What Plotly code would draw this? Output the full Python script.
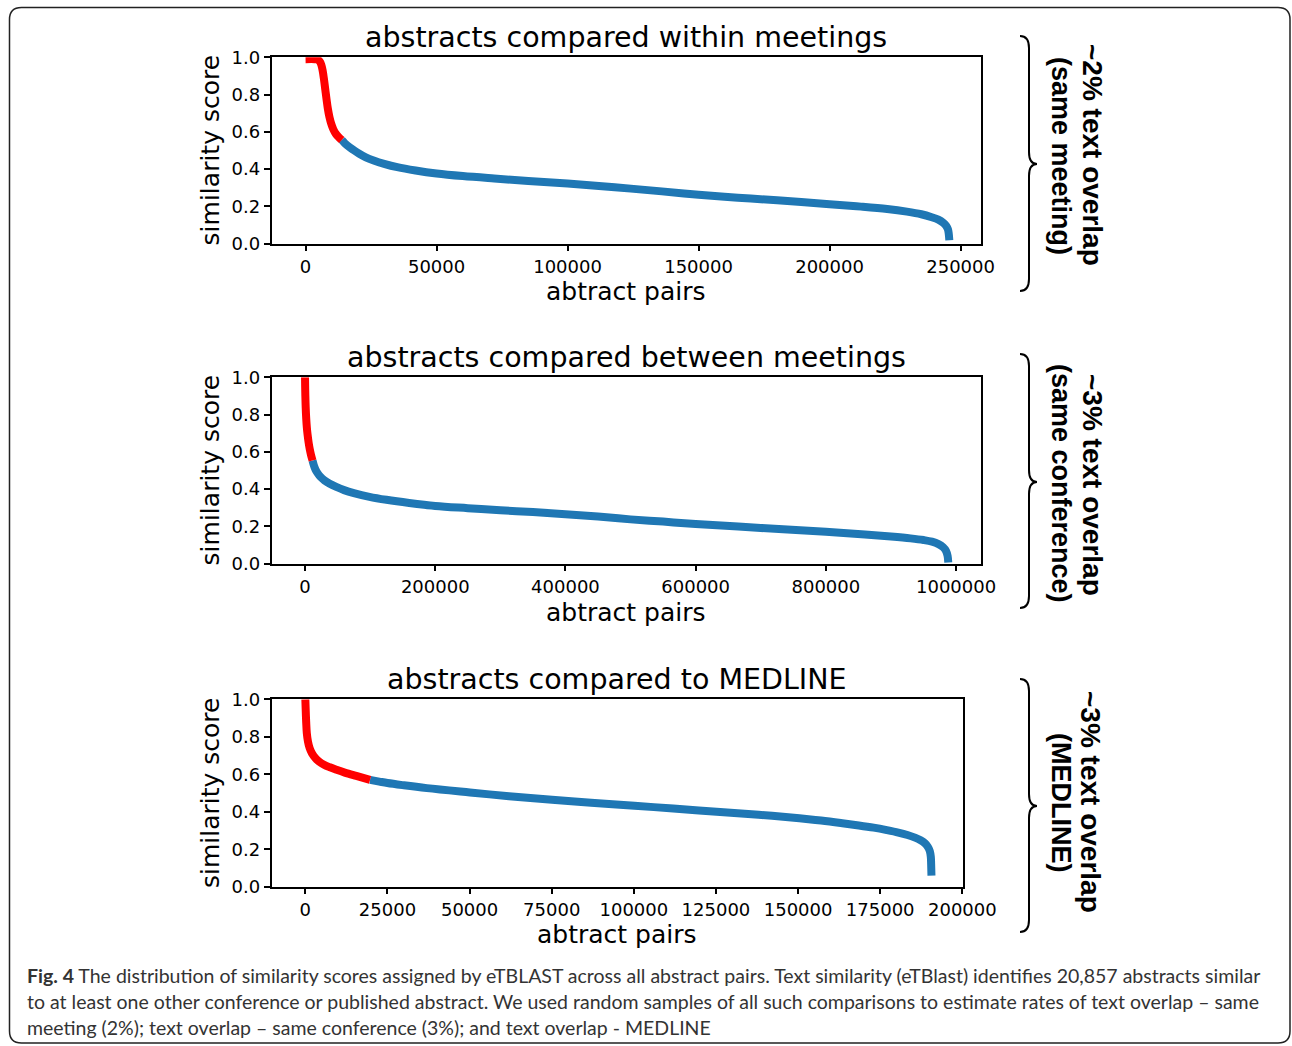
import plotly.graph_objects as go

W, H = 1292, 1046

# ---------------- data ----------------
# Panel 1: abstracts compared within meetings
p1_red_x = [0, 3500, 4600, 5400, 6000, 6500, 7000, 7500, 8000, 8500, 9100, 9800, 10600, 11500, 12600, 13800]
p1_red_y = [0.99, 0.99, 0.988, 0.978, 0.96, 0.93, 0.885, 0.83, 0.775, 0.725, 0.68, 0.643, 0.613, 0.59, 0.572, 0.556]
p1_blue_x = [13800, 15000, 16500, 18300, 20500, 23000, 26000, 30000, 35000, 42000, 50000, 60000, 72000,
             85000, 100000, 118000, 136000, 150000, 165000, 180000, 200000, 212000, 222000, 229500,
             235000, 239000, 241500, 243300, 244500, 245200, 245500, 245700]
p1_blue_y = [0.556, 0.538, 0.520, 0.502, 0.482, 0.463, 0.446, 0.428, 0.410, 0.392, 0.376, 0.362, 0.349,
             0.336, 0.322, 0.302, 0.280, 0.262, 0.246, 0.232, 0.211, 0.198, 0.185, 0.171,
             0.157, 0.141, 0.128, 0.112, 0.095, 0.075, 0.050, 0.018]

# Panel 2: abstracts compared between meetings
p2_red_x = [0, 200, 500, 1000, 1800, 2800, 4000, 5500, 7200, 9200, 11500]
p2_red_y = [1.0, 0.95, 0.90, 0.84, 0.78, 0.73, 0.69, 0.65, 0.615, 0.583, 0.553]
p2_blue_x = [11500, 13500, 16000, 19500, 24000, 30000, 38000, 48000, 60000, 75000, 99000, 125000,
             160000, 200000, 250000, 300000, 350000, 400000, 450000, 500000, 550000, 600000,
             700000, 800000, 860000, 900000, 930000, 950000, 963000, 973000, 980000, 984500,
             987000, 988000]
p2_blue_y = [0.553, 0.528, 0.505, 0.484, 0.464, 0.446, 0.428, 0.411, 0.394, 0.378, 0.358, 0.342,
             0.325, 0.309, 0.297, 0.286, 0.276, 0.265, 0.252, 0.237, 0.225, 0.212,
             0.191, 0.170, 0.156, 0.145, 0.135, 0.126, 0.117, 0.104, 0.088, 0.068,
             0.040, 0.005]

# Panel 3: abstracts compared to MEDLINE
p3_red_x = [0, 100, 250, 450, 800, 1300, 2000, 3000, 4200, 5700, 7500, 9500, 12000, 15500, 19700]
p3_red_y = [1.0, 0.95, 0.88, 0.82, 0.775, 0.74, 0.712, 0.688, 0.668, 0.651, 0.637, 0.624, 0.609, 0.591, 0.570]
p3_blue_x = [19700, 22500, 25000, 30000, 37000, 50100, 62000, 75100, 87000, 100200, 112000, 125200,
             138000, 150400, 157000, 163000, 168500, 173000, 177000, 180500, 183300, 185600,
             187300, 188600, 189500, 190100, 190400, 190500, 190600]
p3_blue_y = [0.570, 0.561, 0.553, 0.541, 0.526, 0.503, 0.483, 0.464, 0.448, 0.432, 0.417, 0.400,
             0.384, 0.365, 0.353, 0.340, 0.327, 0.315, 0.302, 0.289, 0.276, 0.262,
             0.248, 0.232, 0.213, 0.190, 0.160, 0.120, 0.059]

# tick labels
y_ticks = [0.0, 0.2, 0.4, 0.6, 0.8, 1.0]
p1_x_ticks = [0, 50000, 100000, 150000, 200000, 250000]
p2_x_ticks = [0, 200000, 400000, 600000, 800000, 1000000]
p3_x_ticks = [0, 25000, 50000, 75000, 100000, 125000, 150000, 175000, 200000]

titles = ["abstracts compared within meetings",
          "abstracts compared between meetings",
          "abstracts compared to MEDLINE"]
x_label = "abtract pairs"
y_label = "similarity score"
side_line1 = ["~2% text overlap", "~3% text overlap", "~3% text overlap"]
side_line2 = ["(same meeting)", "(same conference)", "(MEDLINE)"]
caption_lines = [
    "<b>Fig. 4</b> The distribution of similarity scores assigned by eTBLAST across all abstract pairs. "
    "Text similarity (eTBlast) identifies 20,857 abstracts similar",
    "to at least one other conference or published abstract. We used random samples of all such "
    "comparisons to estimate rates of text overlap \u2013 same",
    "meeting (2%); text overlap \u2013 same conference (3%); and text overlap - MEDLINE",
]

BLUE = "#1f77b4"
RED = "#ff0000"
FONT = "DejaVu Sans"


def fx(p):
    return p / W


def fy(p):
    return 1 - p / H


panels = [
    dict(rx=p1_red_x, ry=p1_red_y, bx=p1_blue_x, by=p1_blue_y, ticks=p1_x_ticks,
         xr=[-13000, 257600], xd=(271.5, 980.5), yd=(57.3, 243.5),
         tcx=626, tcy=37, xlcy=292, ylcx=210,
         brace=(36, 164, 291), s1=(1093, 155), s2=(1061, 156)),
    dict(rx=p2_red_x, ry=p2_red_y, bx=p2_blue_x, by=p2_blue_y, ticks=p2_x_ticks,
         xr=[-51500, 1037500], xd=(271.5, 980.5), yd=(377.3, 563.5),
         tcx=626, tcy=357, xlcy=612, ylcx=210,
         brace=(354, 482, 608), s1=(1093, 485), s2=(1061, 483)),
    dict(rx=p3_red_x, ry=p3_red_y, bx=p3_blue_x, by=p3_blue_y, ticks=p3_x_ticks,
         xr=[-10300, 200200], xd=(271.5, 963), yd=(699.3, 886.7),
         tcx=617, tcy=679, xlcy=934, ylcx=210,
         brace=(679, 806, 932), s1=(1091, 802), s2=(1061, 802)),
]

fig = go.Figure()
annotations = []
shapes = []
layout = {}

for i, p in enumerate(panels):
    n = "" if i == 0 else str(i + 1)
    xa, ya = "x" + n, "y" + n
    fig.add_trace(go.Scatter(x=p["bx"], y=p["by"], mode="lines", xaxis=xa, yaxis=ya,
                             line=dict(color=BLUE, width=8, shape="spline", smoothing=1.0),
                             showlegend=False, hoverinfo="skip"))
    fig.add_trace(go.Scatter(x=p["rx"], y=p["ry"], mode="lines", xaxis=xa, yaxis=ya,
                             line=dict(color=RED, width=8, shape="spline", smoothing=1.0),
                             showlegend=False, hoverinfo="skip"))
    common = dict(showline=True, linecolor="black", linewidth=1.5, mirror=True,
                  ticks="outside", ticklen=6, tickwidth=1.5, tickcolor="black",
                  showgrid=False, zeroline=False, automargin=False,
                  tickfont=dict(family=FONT, size=18, color="black"))
    layout["xaxis" + n] = dict(common, domain=[fx(p["xd"][0]), fx(p["xd"][1])], range=p["xr"],
                               anchor=ya, tickmode="array", tickvals=p["ticks"],
                               ticktext=[str(t) for t in p["ticks"]])
    layout["yaxis" + n] = dict(common, domain=[fy(p["yd"][1]), fy(p["yd"][0])], range=[0, 1],
                               anchor=xa, tickmode="array", tickvals=y_ticks,
                               ticktext=["%.1f" % t for t in y_ticks])
    # titles and axis labels
    annotations.append(dict(text=titles[i], x=fx(p["tcx"]), y=fy(p["tcy"]), xref="paper", yref="paper",
                            showarrow=False, xanchor="center", yanchor="middle",
                            font=dict(family=FONT, size=28.5, color="black")))
    annotations.append(dict(text=x_label, x=fx(p["tcx"]), y=fy(p["xlcy"]), xref="paper", yref="paper",
                            showarrow=False, xanchor="center", yanchor="middle",
                            font=dict(family=FONT, size=25, color="black")))
    annotations.append(dict(text=y_label, x=fx(p["ylcx"]), y=fy((p["yd"][0] + p["yd"][1]) / 2),
                            xref="paper", yref="paper", textangle=-90,
                            showarrow=False, xanchor="center", yanchor="middle",
                            font=dict(family=FONT, size=25, color="black")))
    # side labels
    for (sx, sy), txt, fs in ((p["s1"], side_line1[i], 28), (p["s2"], side_line2[i], 27)):
        annotations.append(dict(text="<b>" + txt + "</b>", x=fx(sx), y=fy(sy), xref="paper", yref="paper",
                                textangle=90, showarrow=False, xanchor="center", yanchor="middle",
                                font=dict(family="Liberation Sans, Arial", size=fs, color="black")))
    # brace
    yt, ym, yb = p["brace"]
    x0, xm, xt, r = 1020, 1029, 1037, 12
    pts = [("M", [(x0, yt)]), ("Q", [(xm, yt), (xm, yt + r)]), ("L", [(xm, ym - r)]),
           ("Q", [(xm, ym), (xt, ym)]), ("Q", [(xm, ym), (xm, ym + r)]), ("L", [(xm, yb - r)]),
           ("Q", [(xm, yb), (x0, yb)])]
    path = " ".join(c + " " + " ".join("%.5f,%.5f" % (fx(a), fy(b)) for a, b in cs) for c, cs in pts)
    shapes.append(dict(type="path", path=path, xref="paper", yref="paper",
                       line=dict(color="black", width=2)))

# caption
for k, line in enumerate(caption_lines):
    annotations.append(dict(text=line, x=fx(25), y=fy(975 + 26 * k), xref="paper", yref="paper",
                            showarrow=False, xanchor="left", yanchor="middle",
                            font=dict(family="Lato", size=19.5, color="#333333")))

# rounded border around the figure
bx0, by0, bx1, by1, rr = 9.5, 7.5, 1290, 1043, 12
bpts = [("M", [(bx0 + rr, by0)]), ("L", [(bx1 - rr, by0)]), ("Q", [(bx1, by0), (bx1, by0 + rr)]),
        ("L", [(bx1, by1 - rr)]), ("Q", [(bx1, by1), (bx1 - rr, by1)]), ("L", [(bx0 + rr, by1)]),
        ("Q", [(bx0, by1), (bx0, by1 - rr)]), ("L", [(bx0, by0 + rr)]), ("Q", [(bx0, by0), (bx0 + rr, by0)])]
bpath = " ".join(c + " " + " ".join("%.5f,%.5f" % (fx(a), fy(b)) for a, b in cs) for c, cs in bpts)
shapes.append(dict(type="path", path=bpath, xref="paper", yref="paper",
                   line=dict(color="#222222", width=1.5)))

fig.update_layout(width=W, height=H, margin=dict(l=0, r=0, t=0, b=0), template="none",
                  paper_bgcolor="white", plot_bgcolor="white", showlegend=False,
                  annotations=annotations, shapes=shapes, **layout)
fig.write_html("out.html", config={"displayModeBar": False},
               post_script="document.body.style.margin='0px';document.body.style.overflow='hidden';")
